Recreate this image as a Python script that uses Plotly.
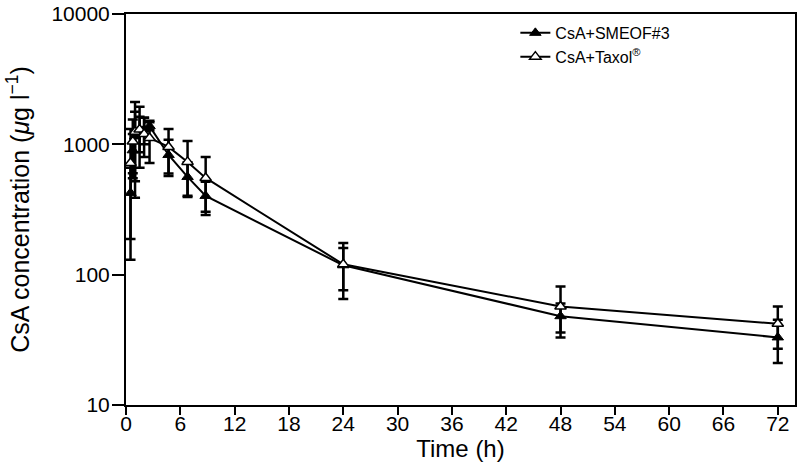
import plotly.graph_objects as go

# Time points (h)
time_h = [0.5, 0.75, 1, 1.5, 2, 2.6, 4.7, 6.8, 8.8, 24, 48, 72]

# CsA+SMEOF#3 (filled triangles)
smeof_conc = [424, 900, 1150, 1250, 1300, 1380, 829, 562, 402, 118, 48, 33]
smeof_err = [236, 300, 630, 380, 300, 100, 257, 167, 115, 42, 12, 12]

# CsA+Taxol (open triangles)
taxol_conc = [720, 1050, 1250, 1300, 1200, 1120, 955, 733, 552, 120, 57, 42]
taxol_err = [590, 500, 860, 640, 400, 400, 358, 329, 248, 55, 24, 15]

x_ticks = list(range(0, 73, 6))
y_ticks = [10, 100, 1000, 10000]
y_ticktext = ["10", "100", "1000", "10000"]

FONT = "Liberation Sans, Arial, Helvetica, sans-serif"

fig = go.Figure()

fig.add_trace(go.Scatter(
    x=time_h, y=smeof_conc, mode="lines+markers", name="CsA+SMEOF#3",
    line=dict(color="black", width=2),
    marker=dict(symbol="triangle-up", size=10, color="black",
                line=dict(color="black", width=1)),
    error_y=dict(type="data", array=smeof_err, visible=True,
                 color="black", thickness=2.5, width=5),
))

fig.add_trace(go.Scatter(
    x=time_h, y=taxol_conc, mode="lines+markers", name="CsA+Taxol<sup>®</sup>",
    line=dict(color="black", width=2),
    marker=dict(symbol="triangle-up", size=10, color="white",
                line=dict(color="black", width=1.5)),
    error_y=dict(type="data", array=taxol_err, visible=True,
                 color="black", thickness=2.5, width=5),
))

fig.update_layout(
    width=799, height=475,
    margin=dict(l=126, r=4, t=14, b=70, autoexpand=False),
    paper_bgcolor="white", plot_bgcolor="white",
    font=dict(family=FONT, color="black", size=21),
    showlegend=True,
    legend=dict(x=0.582, y=0.995, xanchor="left", yanchor="top",
                bgcolor="rgba(0,0,0,0)", font=dict(size=16, family=FONT),
                tracegroupgap=0),
    xaxis=dict(
        range=[0, 73.9], tickmode="array", tickvals=x_ticks,
        ticks="outside", ticklen=8, tickwidth=2, tickcolor="black",
        showline=True, linecolor="black", linewidth=2, mirror=True,
        showgrid=False, zeroline=False,
        tickfont=dict(size=21), ticklabelstandoff=-9,
        ticklabeloverflow="allow",
        title=dict(text="Time (h)", font=dict(size=24), standoff=0),
    ),
    yaxis=dict(
        type="log", range=[1, 4], tickmode="array", tickvals=y_ticks,
        ticktext=y_ticktext,
        ticks="outside", ticklen=12, tickwidth=2, tickcolor="black",
        showline=True, linecolor="black", linewidth=2, mirror=True,
        showgrid=False, zeroline=False,
        tickfont=dict(size=21), ticklabelstandoff=-2,
        ticklabeloverflow="allow",
        title=dict(text="CsA concentration (<i>μ</i>g l<sup>−1</sup>)",
                   font=dict(size=25), standoff=15),
    ),
)

fig.write_html(
    "out.html",
    config={"displayModeBar": False},
    post_script="document.body.style.margin='0';document.body.style.overflow='hidden';",
)
